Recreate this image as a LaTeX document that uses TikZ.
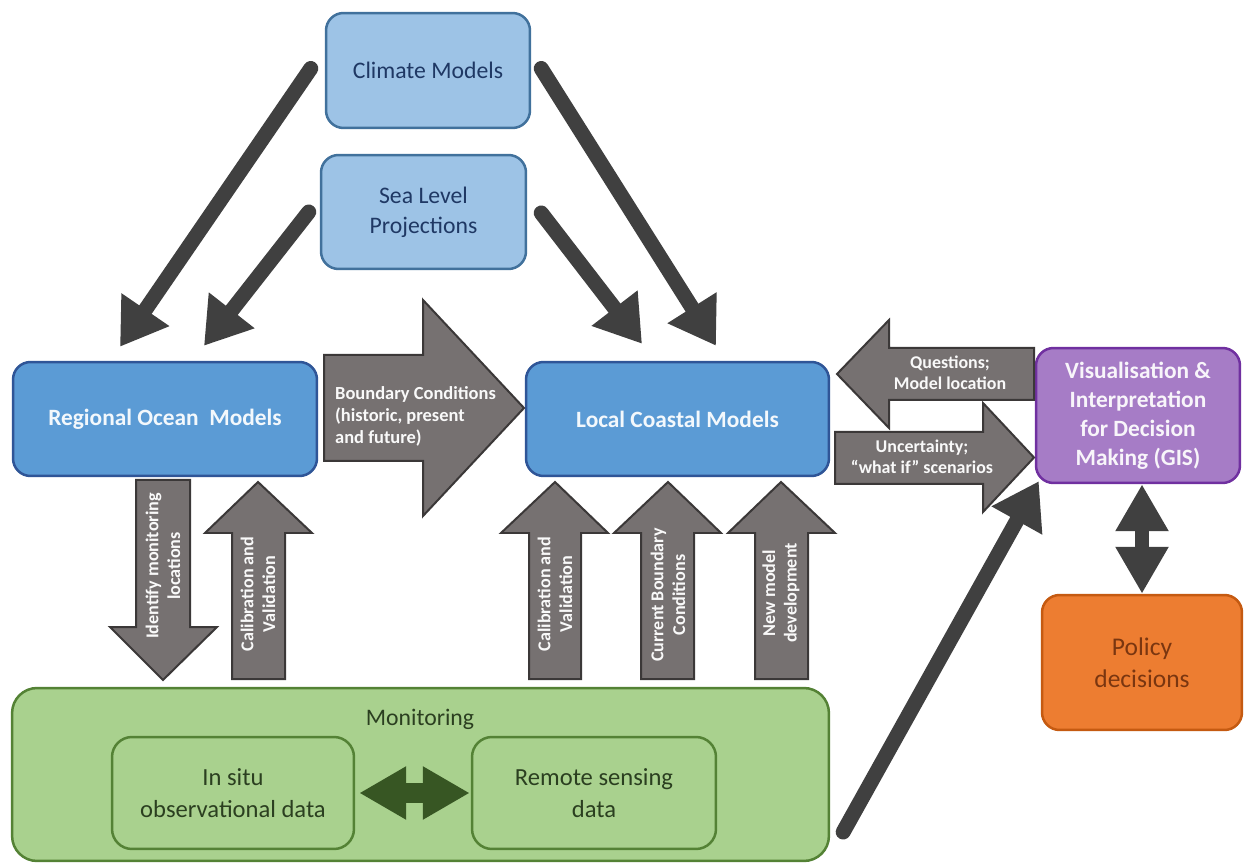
\documentclass[tikz,border=0pt]{standalone}
\usepackage{fontspec}
\setmainfont{Carlito}
\usetikzlibrary{arrows.meta,calc}

\definecolor{boxlight}{HTML}{9DC3E6}
\definecolor{boxlightedge}{HTML}{41719C}
\definecolor{boxmid}{HTML}{5B9BD5}
\definecolor{boxmidedge}{HTML}{2F5597}
\definecolor{navytext}{HTML}{1F3864}
\definecolor{boxpurple}{HTML}{A67CC6}
\definecolor{purpleedge}{HTML}{7030A0}
\definecolor{boxorange}{HTML}{ED7D31}
\definecolor{orangeedge}{HTML}{C55A11}
\definecolor{browntext}{HTML}{7A3610}
\definecolor{boxgreen}{HTML}{A9D18E}
\definecolor{greenedge}{HTML}{548235}
\definecolor{greentext}{HTML}{2B3F20}
\definecolor{darkgreen}{HTML}{375623}
\definecolor{arrowgray}{HTML}{767171}
\definecolor{arrowedge}{HTML}{3B3838}
\definecolor{darkarrow}{HTML}{404040}

\begin{document}
\begin{tikzpicture}[x=0.02cm,y=-0.02cm,
    lightbox/.style={draw=boxlightedge,fill=boxlight,line width=0.05cm,rounded corners=0.35cm,
        text=navytext,align=center,font=\fontsize{13.5}{17}\selectfont},
    midbox/.style={draw=boxmidedge,fill=boxmid,line width=0.05cm,rounded corners=0.35cm,
        text=white!88!boxlight,align=center,font=\bfseries\fontsize{13.3}{16}\selectfont},
    greenbox/.style={draw=greenedge,fill=boxgreen,line width=0.05cm,rounded corners=0.4cm,
        text=greentext,align=center,font=\fontsize{14}{18.5}\selectfont},
    blockarrow/.style={draw=arrowedge,fill=arrowgray,line width=0.04cm,line join=miter},
    arrowtext/.style={text=white!95!gray,align=center,font=\bfseries\fontsize{10.3}{12.3}\selectfont},
    fatarrow/.style={draw=darkarrow,line width=0.3cm,line cap=round,
        -{Triangle[width=1.1cm,length=0.9cm]}},
    twoway/.style={line width=#1,{Triangle[width=1cm,length=0.94cm]}-{Triangle[width=1cm,length=0.94cm]}}
  ]
  \useasboundingbox[fill=white] (0,0) rectangle (1244,864);

  % top boxes
  \node[lightbox,minimum width=4.08cm,minimum height=2.3cm] (climate) at (428,70.5) {Climate Models};
  \node[lightbox,minimum width=4.1cm,minimum height=2.28cm] (sealevel) at (423.5,212) {Sea Level\\Projections};

  % model boxes
  \node[midbox,minimum width=6.08cm,minimum height=2.28cm] (regional) at (165,419) {Regional Ocean\ \ Models};
  \node[midbox,minimum width=6.06cm,minimum height=2.28cm] (local) at (677.5,419) {Local Coastal Models};

  % right side
  \node[draw=purpleedge,fill=boxpurple,line width=0.05cm,rounded corners=0.35cm,
        text=white!92!boxpurple,align=center,font=\bfseries\fontsize{13.3}{16.5}\selectfont,
        minimum width=4.08cm,minimum height=2.7cm] (vis) at (1138,415.5)
        {Visualisation \&\\Interpretation\\for Decision\\Making (GIS)};
  \node[draw=orangeedge,fill=boxorange,line width=0.05cm,rounded corners=0.35cm,
        text=browntext,align=center,font=\fontsize{14.5}{18.5}\selectfont,
        minimum width=4cm,minimum height=2.7cm] (policy) at (1142,662.5) {Policy\\decisions};

  % monitoring
  \node[greenbox,rounded corners=0.5cm,minimum width=16.34cm,minimum height=3.46cm] (monitoring) at (420.5,774.5) {};
  \node[text=greentext,font=\fontsize{13.5}{16}\selectfont] (montitle) at (420,719) {Monitoring};
  \node[greenbox,minimum width=4.84cm,minimum height=2.24cm] (insitu) at (233,793) {In situ\\observational data};
  \node[greenbox,minimum width=4.88cm,minimum height=2.24cm] (remote) at (594,793) {Remote sensing\\data};

  % thin arrows
  \draw[fatarrow] ($(climate.west)+(-14,-2)$) -- ($(regional.north)+(-45,-14)$);
  \draw[fatarrow] ($(sealevel.west)+(-11,0)$) -- ($(regional.north)+(39,-15)$);
  \draw[fatarrow] ($(climate.east)+(10,-2)$) -- ($(local.north)+(38.5,-15)$);
  \draw[fatarrow] ($(sealevel.east)+(14,1)$) -- ($(local.north)+(-35.5,-17)$);
  \draw[fatarrow] ($(monitoring.east)+(13,57.5)$) -- ($(vis.south west)+(4,-3)$);

  % two way
  \draw[twoway=0.28cm,darkarrow] (vis.south -| policy.north) -- (policy.north);
  \draw[twoway=0.4cm,darkgreen] ($(insitu.east)+(4,0)$) -- ($(remote.west)+(-1,0)$);

  % boundary conditions
  \draw[blockarrow] (324,355) -- (423,355) -- (423,300) -- (524,408) -- (423,516) -- (423,461) -- (324,461) -- cycle;
  \node[arrowtext,align=left,anchor=west,font=\bfseries\fontsize{10.5}{12.5}\selectfont] (boundary) at (329,416)
        {Boundary Conditions\\(historic, present\\and future)};

  % down / up
  \draw[blockarrow] (136,480) -- (190,480) -- (190,627) -- (217,627) -- (163,680) -- (110,627) -- (136,627) -- cycle;
  \node[arrowtext,rotate=90] (identify) at (163,566) {Identify monitoring\\locations};
  \draw[blockarrow] (232,679) -- (285,679) -- (285,533) -- (312,533) -- (258,482) -- (205,533) -- (232,533) -- cycle;
  \node[arrowtext,rotate=90] (calibA) at (258,594) {Calibration and\\Validation};
  \draw[blockarrow] (529,679) -- (581,679) -- (581,533) -- (608,533) -- (555,482) -- (501,533) -- (529,533) -- cycle;
  \node[arrowtext,rotate=90] (calibB) at (555,594) {Calibration and\\Validation};
  \draw[blockarrow] (641,679) -- (694,679) -- (694,533) -- (721,533) -- (668,482) -- (614,533) -- (641,533) -- cycle;
  \node[arrowtext,rotate=90] (current) at (668,595) {Current Boundary\\Conditions};
  \draw[blockarrow] (755,679) -- (808,679) -- (808,533) -- (835,533) -- (781,482) -- (728,533) -- (755,533) -- cycle;
  \node[arrowtext,rotate=90] (newmodel) at (781,593) {New model\\development};

  % left / right
  \draw[blockarrow] (1034,348) -- (1034,400) -- (889,400) -- (889,428) -- (837,374) -- (889,320) -- (889,348) -- cycle;
  \node[arrowtext,font=\bfseries\fontsize{10.2}{11.8}\selectfont] (questions) at (950,373) {Questions;\\Model location};
  \draw[blockarrow] (835,432) -- (983,432) -- (983,403) -- (1034,457.5) -- (983,512) -- (983,484) -- (835,484) -- cycle;
  \node[arrowtext,font=\bfseries\fontsize{10.2}{11.8}\selectfont] (uncertainty) at (922,457) {Uncertainty;\\“what if” scenarios};
\end{tikzpicture}
\end{document}
